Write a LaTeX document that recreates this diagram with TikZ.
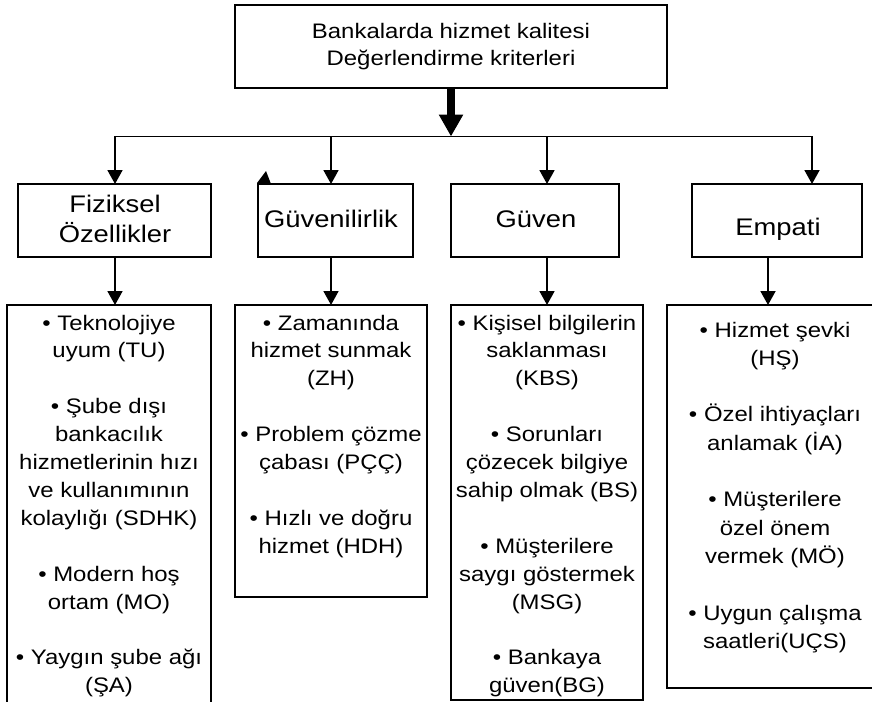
\documentclass[tikz,border=0pt]{standalone}
\usepackage{fontspec}
\setmainfont{Liberation Sans}[FakeStretch=1.14]
\usetikzlibrary{arrows.meta}
\begin{document}
\begin{tikzpicture}[x=1pt,y=-1pt,
  box/.style={draw, line width=1.8pt, inner sep=0pt, outer sep=0pt, rectangle},
  txt/.style={inner sep=0pt, outer sep=0pt, align=center, font=\fontsize{21}{27.9}\selectfont},
  lvl/.style={inner sep=0pt, outer sep=0pt, align=center, font=\fontsize{24}{30}\selectfont},
  arr/.style={line width=1.8pt, -{Triangle[width=15pt,length=14pt]}},
  thickarr/.style={line width=8pt, -{Triangle[width=23pt,length=22pt]}}]
\fill[white] (0,0) rectangle (872,701);
\path[use as bounding box] (0,0) rectangle (872,701);
\clip (0,0) rectangle (872,701);

% top
\node[box, minimum width=432pt, minimum height=83pt] (top) at (451,46.5) {};
\node[txt, anchor=north, font=\fontsize{21}{27}\selectfont] (toptext) at (451,18)
  {\rule{0pt}{20pt}Bankalarda hizmet kalitesi\\Değerlendirme kriterleri};

% level 2
\node[box, minimum width=193pt, minimum height=73pt] (fiz) at (114.5,220.5) {};
\node[box, minimum width=155pt, minimum height=73pt] (guvl) at (335.5,220.5) {};
\node[box, minimum width=168pt, minimum height=73pt] (guv) at (535,220.5) {};
\node[box, minimum width=170pt, minimum height=73pt] (emp) at (777,220.5) {};
\node[lvl, anchor=north] (fiztext) at (115,190) {\rule{0pt}{22pt}Fiziksel\\Özellikler};
\node[lvl, anchor=base] (guvltext) at (331,227) {Güvenilirlik};
\node[lvl, anchor=base] (guvtext) at (536,227) {Güven};
\node[lvl, anchor=base] (emptext) at (778,235) {Empati};

% level 3
\node[box, minimum width=204pt, minimum height=435pt] (b1) at (109,522.5) {};
\node[box, minimum width=192pt, minimum height=292pt] (b2) at (331,451) {};
\node[box, minimum width=192pt, minimum height=395pt] (b3) at (547,502.5) {};
\node[box, minimum width=216pt, minimum height=383pt] (b4) at (775,496.5) {};

\node[txt, anchor=north] (t1) at (109,310)
  {\rule{0pt}{20pt}• Teknolojiye\\uyum (TU)\\[27.9pt]• Şube dışı\\bankacılık\\hizmetlerinin hızı\\ve kullanımının\\kolaylığı (SDHK)\\[27.9pt]• Modern hoş\\ortam (MO)\\[27.9pt]• Yaygın şube ağı\\(ŞA)};
\node[txt, anchor=north] (t2) at (331,310)
  {\rule{0pt}{20pt}• Zamanında\\hizmet sunmak\\(ZH)\\[27.9pt]• Problem çözme\\çabası (PÇÇ)\\[27.9pt]• Hızlı ve doğru\\hizmet (HDH)};
\node[txt, anchor=north] (t3) at (547,310)
  {\rule{0pt}{20pt}• Kişisel bilgilerin\\saklanması\\(KBS)\\[27.9pt]• Sorunları\\çözecek bilgiye\\sahip olmak (BS)\\[27.9pt]• Müşterilere\\saygı göstermek\\(MSG)\\[27.9pt]• Bankaya\\güven(BG)};
\node[txt, anchor=north, font=\fontsize{21}{28.3}\selectfont] (t4) at (775,317)
  {\rule{0pt}{20pt}• Hizmet şevki\\(HŞ)\\[28.3pt]• Özel ihtiyaçları\\anlamak (İA)\\[28.3pt]• Müşterilere\\özel önem\\vermek (MÖ)\\[28.3pt]• Uygun çalışma\\saatleri(UÇS)};

% connectors
\coordinate (hub) at (451,136.5);
\coordinate (d1) at (115,136.5);
\coordinate (d2) at (331,136.5);
\coordinate (d3) at (547,136.5);
\coordinate (d4) at (812,136.5);
\coordinate (e4) at (768,257);

\draw[thickarr] (top.south) -- (hub);
\draw[arr] (hub) -- (d1) -- (d1 |- fiz.north);
\draw[arr] (hub) -- (d4) -- (d4 |- emp.north);
\draw[arr] (d2) -- (d2 |- guvl.north);
\draw[arr] (d3) -- (d3 |- guv.north);

\draw[arr] (d1 |- fiz.south) -- (d1 |- b1.north);
\draw[arr] (d2 |- guvl.south) -- (d2 |- b2.north);
\draw[arr] (d3 |- guv.south) -- (d3 |- b3.north);
\draw[arr] (e4 |- emp.south) -- (e4 |- b4.north);

% stray arrowhead
\fill (257,183) -- (266,171) -- (271,184) -- cycle;
\end{tikzpicture}
\end{document}
